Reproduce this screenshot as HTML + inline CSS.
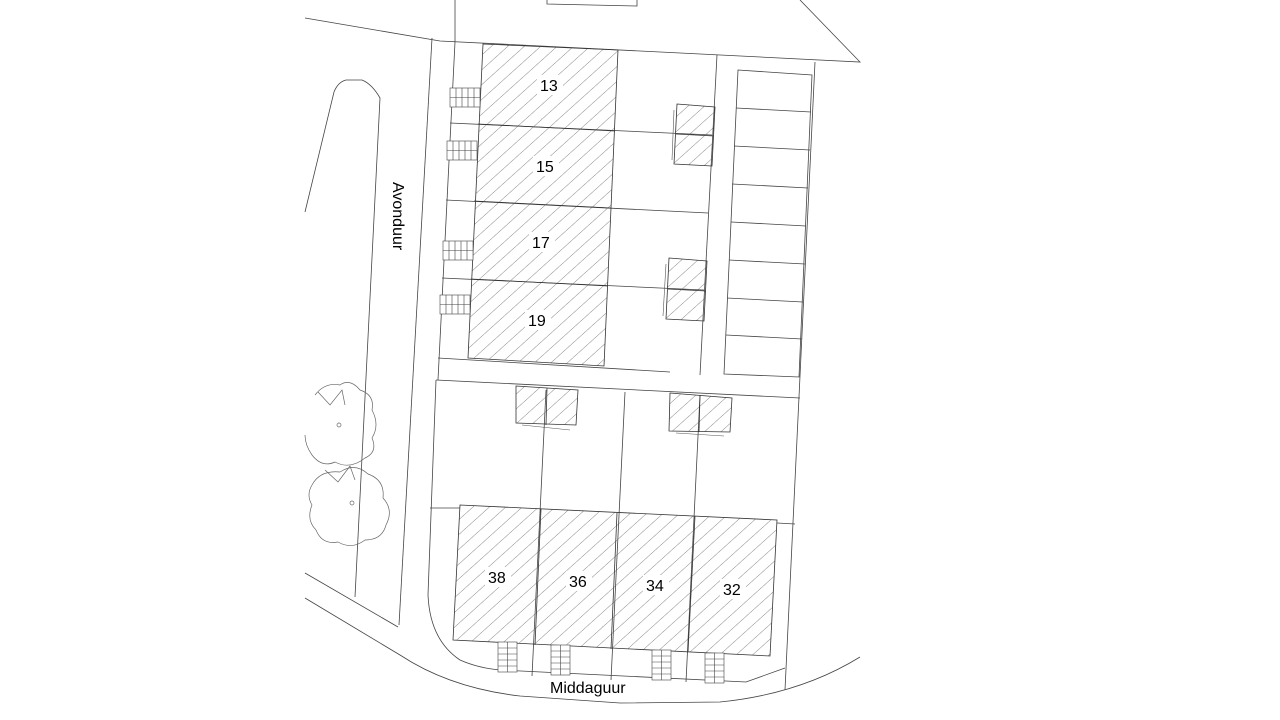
<!DOCTYPE html>
<html><head><meta charset="utf-8"><style>
html,body{margin:0;padding:0;background:#fff;}
svg{display:block}
text{font-family:"Liberation Sans",sans-serif;fill:#000}
</style></head><body>
<svg width="1280" height="720" viewBox="0 0 1280 720" xmlns="http://www.w3.org/2000/svg">
<defs>
<pattern id="h" patternUnits="userSpaceOnUse" width="11" height="11" patternTransform="rotate(-42)">
<line x1="0" y1="0" x2="11" y2="0" stroke="#555" stroke-width="0.7"/>
</pattern>
</defs>
<rect width="1280" height="720" fill="#fff"/>
<g fill="none" stroke="#444" stroke-width="0.8">
<polyline points="305,18 440,41 860,62 800,0"/>
<polyline points="547,0 547,4 637,6 637,0"/>
<line x1="455" y1="0" x2="455" y2="42"/>
<line x1="432" y1="38" x2="399" y2="625"/>
<path d="M305,212 L334,92 Q338,82 346,80 L362,80 Q372,84 380,98 L355,597"/>
<line x1="305" y1="573" x2="398" y2="627"/>
<path d="M305,598 L400,655 Q450,688 520,696 L620,703 L720,702 Q800,694 860,657"/>
<path d="M436,380 L428,595 Q430,640 460,660 Q478,668 500,670 L746,682 L785,668"/>
<line x1="455" y1="42" x2="438" y2="380"/>
<line x1="717" y1="55" x2="700" y2="375"/>
<line x1="815" y1="62" x2="785" y2="690"/>
<line x1="450" y1="123" x2="712" y2="135"/>
<line x1="446" y1="200" x2="708" y2="213"/>
<line x1="442" y1="278" x2="704" y2="290"/>
<line x1="438" y1="358" x2="670" y2="372"/>
<line x1="436" y1="380" x2="800" y2="398"/>
<polygon points="738,70 812,75 799,377 724,374"/>
<line x1="736" y1="108" x2="811" y2="112"/>
<line x1="734" y1="146" x2="810" y2="150"/>
<line x1="732" y1="184" x2="808" y2="188"/>
<line x1="731" y1="222" x2="806" y2="226"/>
<line x1="729" y1="260" x2="805" y2="264"/>
<line x1="727" y1="298" x2="803" y2="302"/>
<line x1="726" y1="335" x2="802" y2="339"/>
<line x1="546" y1="390" x2="532" y2="676"/>
<line x1="625" y1="392" x2="611" y2="680"/>
<line x1="700" y1="395" x2="686" y2="682"/>
<line x1="430" y1="508" x2="460" y2="508"/>
<line x1="777" y1="523" x2="795" y2="524"/>
</g>
<g stroke="#333" stroke-width="0.8">
<polygon points="483,44 618,50 604,366 468,358" fill="url(#h)"/>
<line x1="478" y1="124" x2="615" y2="131"/>
<line x1="474" y1="201" x2="611" y2="208"/>
<line x1="471" y1="279" x2="608" y2="286"/>
<polygon points="460,505 777,520 770,656 453,640" fill="url(#h)"/>
<line x1="541" y1="509" x2="535" y2="645"/>
<line x1="617" y1="513" x2="611" y2="649"/>
<line x1="695" y1="516" x2="688" y2="652"/>
<polygon points="677,104 715,107 712,166 674,164" fill="url(#h)"/>
<line x1="676" y1="134" x2="714" y2="136"/>
<polygon points="669,258 707,261 704,321 666,319" fill="url(#h)"/>
<line x1="668" y1="289" x2="706" y2="291"/>
<polygon points="516,386 578,390 576,425 516,423" fill="url(#h)"/>
<line x1="547" y1="388" x2="546" y2="425"/>
<polygon points="670,393 732,398 730,432 669,431" fill="url(#h)"/>
<line x1="700" y1="395" x2="699" y2="432"/>
</g>
<g fill="none" stroke="#555" stroke-width="0.6">
<polyline points="674,110 672,160"/><polyline points="666,264 663,316"/>
<polyline points="522,425 570,430"/><polyline points="676,433 724,436"/>
</g>
<g fill="#fff" stroke="#444" stroke-width="0.6">
<rect x="450" y="88" width="30" height="19"/>
<path d="M450,97.5h30M456,88v19M462,88v19M468,88v19M474,88v19"/>
<rect x="447" y="141" width="30" height="19"/>
<path d="M447,150.5h30M453,141v19M459,141v19M465,141v19M471,141v19"/>
<rect x="443" y="241" width="30" height="19"/>
<path d="M443,250.5h30M449,241v19M455,241v19M461,241v19M467,241v19"/>
<rect x="440" y="295" width="30" height="19"/>
<path d="M440,304.5h30M446,295v19M452,295v19M458,295v19M464,295v19"/>
<rect x="498" y="642" width="19" height="30"/>
<path d="M498,648h19M498,654h19M498,660h19M498,666h19M507.5,642v30"/>
<rect x="551" y="645" width="19" height="30"/>
<path d="M551,651h19M551,657h19M551,663h19M551,669h19M560.5,645v30"/>
<rect x="652" y="650" width="19" height="30"/>
<path d="M652,656h19M652,662h19M652,668h19M652,674h19M661.5,650v30"/>
<rect x="705" y="653" width="19" height="30"/>
<path d="M705,659h19M705,665h19M705,671h19M705,677h19M714.5,653v30"/>
</g>
<g fill="none" stroke="#666" stroke-width="0.7">
<path d="M315,395 Q325,382 340,385 Q350,378 360,390 Q375,395 372,410 Q380,425 372,438 Q378,452 365,458 Q350,470 335,462 Q322,468 312,455 Q305,445 305,435"/>
<path d="M312,485 Q320,470 340,472 Q355,462 368,474 Q385,480 383,498 Q394,510 386,525 Q382,540 365,540 Q352,550 338,542 Q322,545 316,530 Q306,520 312,505 Q306,495 312,485 Z"/>
<path d="M318,392 L330,405 L342,390 L345,405 M325,470 L338,482 L350,466 L355,480"/>
<circle cx="339" cy="425" r="2"/><circle cx="352" cy="503" r="2"/>
</g>
<g fill="#fff">
<rect x="537" y="75" width="26" height="20"/>
<rect x="533" y="156" width="26" height="20"/>
<rect x="529" y="232" width="26" height="20"/>
<rect x="525" y="310" width="26" height="20"/>
<rect x="485" y="567" width="26" height="20"/>
<rect x="566" y="571" width="26" height="20"/>
<rect x="643" y="575" width="26" height="20"/>
<rect x="720" y="579" width="26" height="20"/>
</g>
<g font-size="16">
<text x="540" y="91">13</text>
<text x="536" y="172">15</text>
<text x="532" y="248">17</text>
<text x="528" y="326">19</text>
<text x="488" y="583">38</text>
<text x="569" y="587">36</text>
<text x="646" y="591">34</text>
<text x="723" y="595">32</text>
<text x="550" y="693">Middaguur</text>
<text transform="translate(393,182) rotate(90)">Avonduur</text>
</g>
</svg>
</body></html>
